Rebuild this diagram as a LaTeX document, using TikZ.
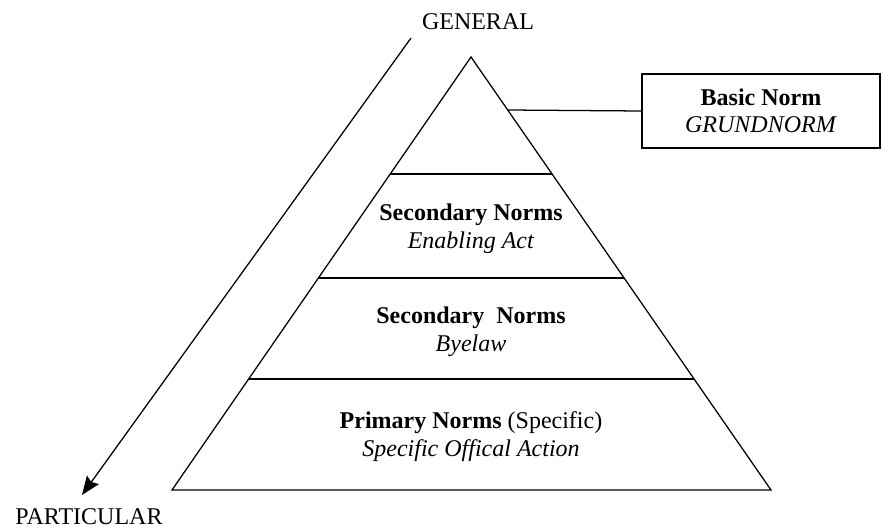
\documentclass[tikz,border=0pt]{standalone}
\usepackage{fontspec}
\setmainfont{Liberation Serif}
\usetikzlibrary{calc,arrows.meta}
\begin{document}
\begin{tikzpicture}[x=0.75pt,y=-0.75pt,
  edge/.style={draw=black,line width=0.95pt},
  lbl/.style={font=\fontsize{18}{21}\selectfont,inner sep=0pt,align=center},
  boxnode/.style={draw=black,line width=0.95pt,minimum width=178.5pt,minimum height=55.5pt,font=\fontsize{18}{20}\selectfont,align=center,inner sep=0pt}]
\useasboundingbox (0,0) rectangle (882,531);
% pyramid
\coordinate (apex) at (471,57);
\coordinate (bl) at (172,490);
\coordinate (br) at (771,490);
\draw[edge,line join=miter] (apex) -- (bl) -- (br) -- cycle;
\coordinate (l1) at ($(apex)!0.2702!(bl)$);
\coordinate (r1) at ($(apex)!0.2702!(br)$);
\coordinate (l2) at ($(apex)!0.5104!(bl)$);
\coordinate (r2) at ($(apex)!0.5104!(br)$);
\coordinate (l3) at ($(apex)!0.7436!(bl)$);
\coordinate (r3) at ($(apex)!0.7436!(br)$);
\draw[edge] (l1) -- (r1);
\draw[edge] (l2) -- (r2);
\draw[edge] (l3) -- (r3);
% basic norm box
\node[boxnode] (basic) at (761,111) {\textbf{Basic Norm}\\\textit{GRUNDNORM}};
\coordinate (side) at ($(apex)!0.1224!(br)$);
\draw[edge] (side) -- (basic.west);
% texts
\node[lbl] (s1) at (471,229) {\textbf{Secondary Norms}\\\textit{Enabling Act}};
\node[lbl] (s2) at (471,332) {\textbf{Secondary\ \ Norms}\\\textit{Byelaw}};
\node[lbl] (p1) at (471,437) {\textbf{Primary Norms} (Specific)\\\textit{Specific Offical Action}};
\node[lbl] (gen) at (478,22) {GENERAL};
\node[lbl] (part) at (89,517) {PARTICULAR};
% arrow
\coordinate (arS) at (411,38);
\coordinate (arE) at (82,495);
\draw[edge,-{Stealth[length=14pt,width=11pt,inset=2pt]}] (arS) -- (arE);
\end{tikzpicture}
\end{document}
